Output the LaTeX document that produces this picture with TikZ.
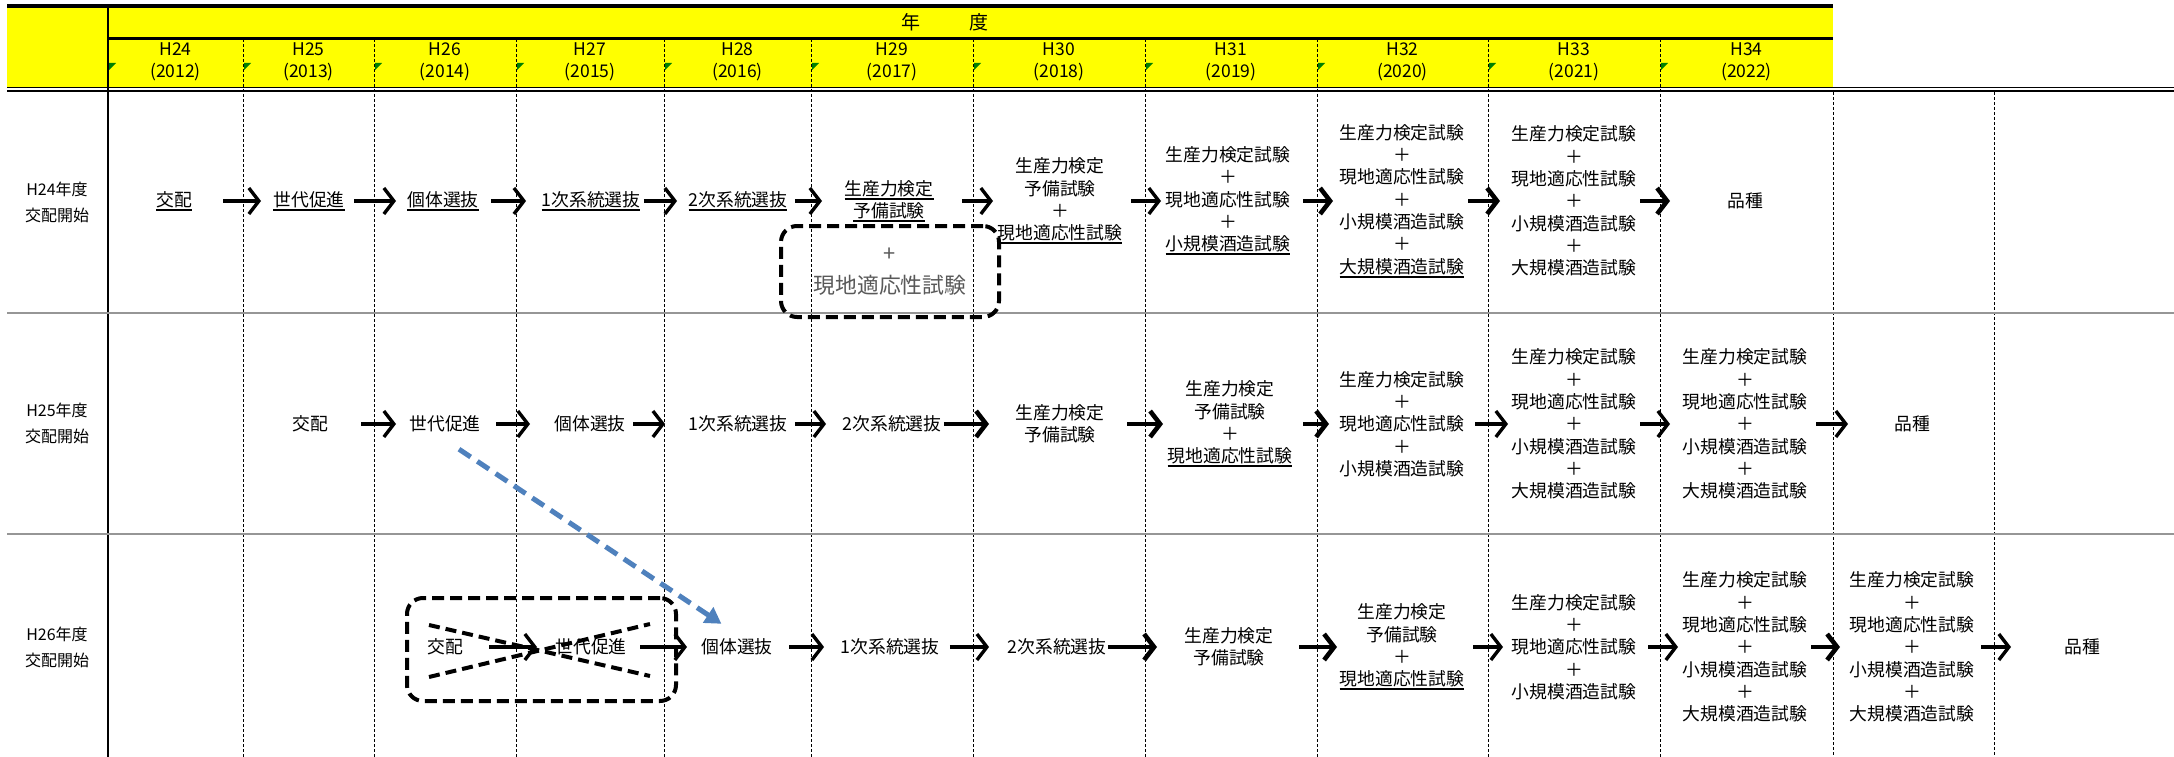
\documentclass[tikz,border=0pt]{standalone}
\usepackage{fontspec}
\setmainfont{Noto Sans CJK JP}
\usetikzlibrary{arrows.meta,calc}
\definecolor{hdryellow}{RGB}{255,255,0}
\definecolor{xlblue}{RGB}{79,129,189}
\definecolor{boxgray}{RGB}{89,89,89}
\definecolor{sepgray}{RGB}{150,150,150}
\definecolor{flaggreen}{RGB}{0,128,0}
\newcommand\myconn[5][arr]{\draw[#1,shorten <=#4pt,shorten >=#5pt] (#2.east) -- (#3.west |- #2.east);}
\newcommand\myul[1]{\setbox0\hbox{#1}\leavevmode\rlap{\rule[-4.6pt]{\wd0}{1.9pt}}\box0}
\newcommand\pl{＋}
\begin{document}
\begin{tikzpicture}[x=1pt,y=-1pt,
  txt/.style={inner sep=0pt,outer sep=0pt,align=center,font=\fontsize{17.8}{22.3}\selectfont},
  lbl/.style={inner sep=0pt,align=center,font=\fontsize{16}{26}\selectfont},
  hdr/.style={inner sep=0pt,align=center,font=\fontsize{17.5}{22}\selectfont},
  arr/.style={line width=3.4pt,-{Straight Barb[length=10pt,width=26pt]}},
  arrH/.style={arr,line width=4.6pt},
  coldiv/.style={line width=0.8pt,dash pattern=on 3pt off 2pt},
  rowsep/.style={line width=2.4pt,sepgray},
  dbox/.style={draw,line width=4pt,dash pattern=on 12pt off 6pt,rounded corners=16pt,inner sep=0pt},
  xline/.style={line width=4pt,dash pattern=on 11pt off 6pt},
  bluearr/.style={xlblue,line width=5pt,dash pattern=on 14pt off 8pt,-{Triangle[length=16pt,width=18pt]}},
  flag/.style={fill=flaggreen,draw=none}]
\useasboundingbox (0,0) rectangle (2174,757);
\fill[white] (0,0) rectangle (2174,757);
% ---------- header ----------
\fill[hdryellow] (7,6) rectangle (1833,88);
\foreach \x in {243,374,516,664,811,973,1145,1317,1488,1660}
  \draw[coldiv] (\x,39) -- (\x,757);
\foreach \x in {1833,1994}
  \draw[coldiv] (\x,92) -- (\x,757);
\draw[line width=1.2pt] (108,6) -- (108,757);
\draw[line width=3.4pt] (7,6) -- (1833,6);
\draw[line width=3pt] (108,39) -- (1833,39);
\draw[line width=1.8pt] (7,87.5) -- (2174,87.5);
\draw[line width=1.8pt] (7,91.2) -- (2174,91.2);
\foreach \x in {108,243,374,516,664,811,973,1145,1317,1488,1660}
  \fill[flag] (\x+1,63) -- (\x+8,63) -- (\x+1,70) -- cycle;
\node[font=\fontsize{19}{19}\selectfont,inner sep=0pt] (nendo) at (945,22) {年\hspace{50pt}度};
\node[hdr] (h24) at (175.5,62) {H24\\(2012)};
\node[hdr] (h25) at (308.5,62) {H25\\(2013)};
\node[hdr] (h26) at (445,62) {H26\\(2014)};
\node[hdr] (h27) at (590,62) {H27\\(2015)};
\node[hdr] (h28) at (737.5,62) {H28\\(2016)};
\node[hdr] (h29) at (892,62) {H29\\(2017)};
\node[hdr] (h30) at (1059,62) {H30\\(2018)};
\node[hdr] (h31) at (1231,62) {H31\\(2019)};
\node[hdr] (h32) at (1402.5,62) {H32\\(2020)};
\node[hdr] (h33) at (1574,62) {H33\\(2021)};
\node[hdr] (h34) at (1746.5,62) {H34\\(2022)};
% ---------- row separators ----------
\draw[rowsep] (7,313) -- (2174,313);
\draw[rowsep] (7,534) -- (2174,534);
% ---------- left labels ----------
\node[lbl] (l1) at (57,202) {H24年度\\交配開始};
\node[lbl] (l2) at (57,423) {H25年度\\交配開始};
\node[lbl] (l3) at (57,647) {H26年度\\交配開始};
% ---------- row 1 ----------
\node[txt] (n11) at (174,201) {\myul{交配}};
\node[txt] (n12) at (309,201) {\myul{世代促進}};
\node[txt] (n13) at (443,201) {\myul{個体選抜}};
\node[txt] (n14) at (591,201) {\myul{1次系統選抜}};
\node[txt] (n15) at (738,201) {\myul{2次系統選抜}};
\node[txt] (n16) at (889,201) {\myul{生産力検定}\\\myul{予備試験}};
\node[txt] (n17) at (1060,201) {生産力検定\\予備試験\\\pl\\\myul{現地適応性試験}};
\node[txt] (n18) at (1228,201) {生産力検定試験\\\pl\\現地適応性試験\\\pl\\\myul{小規模酒造試験}};
\node[txt] (n19) at (1402,201) {生産力検定試験\\\pl\\現地適応性試験\\\pl\\小規模酒造試験\\\pl\\\myul{大規模酒造試験}};
\node[txt] (n1a) at (1574,201) {生産力検定試験\\\pl\\現地適応性試験\\\pl\\小規模酒造試験\\\pl\\大規模酒造試験};
\node[txt] (n1b) at (1745,201) {品種};
\myconn{n11}{n12}{31.2}{12.4}
\myconn{n12}{n13}{9.4}{11.4}
\myconn{n13}{n14}{12.4}{15.5}
\myconn{n14}{n15}{3.5}{11.5}
\myconn{n15}{n16}{7.5}{22.5}
\myconn{n16}{n17}{28.5}{4.7}
\myconn{n17}{n18}{8.7}{4.7}
\myconn[arrH]{n18}{n19}{12.7}{6.7}
\myconn[arrH]{n19}{n1a}{3.7}{11.7}
\myconn[arrH]{n1a}{n1b}{3.7}{57.2}
\node[dbox,minimum width=218pt,minimum height=91pt,text=boxgray,align=center,
  font=\fontsize{21.8}{32}\selectfont] (box1) at (890,271.5) {+\\現地適応性試験};
% ---------- row 2 ----------
\node[txt] (n21) at (310,424) {交配};
\node[txt] (n22) at (445,424) {世代促進};
\node[txt] (n23) at (590,424) {個体選抜};
\node[txt] (n24) at (738,424) {1次系統選抜};
\node[txt] (n25) at (892,424) {2次系統選抜};
\node[txt] (n26) at (1060,424) {生産力検定\\予備試験};
\node[txt] (n27) at (1230,424) {生産力検定\\予備試験\\\pl\\\myul{現地適応性試験}};
\node[txt] (n28) at (1402,424) {生産力検定試験\\\pl\\現地適応性試験\\\pl\\小規模酒造試験};
\node[txt] (n29) at (1574,424) {生産力検定試験\\\pl\\現地適応性試験\\\pl\\小規模酒造試験\\\pl\\大規模酒造試験};
\node[txt] (n2a) at (1745,424) {生産力検定試験\\\pl\\現地適応性試験\\\pl\\小規模酒造試験\\\pl\\大規模酒造試験};
\node[txt] (n2b) at (1912,424) {品種};
\myconn{n21}{n22}{33.2}{13.4}
\myconn{n22}{n23}{15.4}{24.4}
\myconn{n23}{n24}{7.4}{23.5}
\myconn{n24}{n25}{7.5}{16.5}
\myconn[arrH]{n25}{n26}{2.5}{26.5}
\myconn[arrH]{n26}{n27}{22.5}{4.7}
\myconn[arrH]{n27}{n28}{10.7}{10.7}
\myconn{n28}{n29}{10.7}{3.7}
\myconn{n29}{n2a}{3.7}{12.7}
\myconn{n2a}{n2b}{8.7}{46.2}
% ---------- row 3 ----------
\node[dbox,minimum width=269pt,minimum height=103pt] (box3) at (541.5,649.5) {};
\draw[xline] (429,625) -- (650,676);
\draw[xline] (429,677) -- (650,624);
\node[txt] (n31) at (445,647) {交配};
\node[txt] (n32) at (591,647) {世代促進};
\node[txt] (n33) at (737,647) {個体選抜};
\node[txt] (n34) at (890,647) {1次系統選抜};
\node[txt] (n35) at (1057,647) {2次系統選抜};
\node[txt] (n36) at (1229,647) {生産力検定\\予備試験};
\node[txt] (n37) at (1402,647) {生産力検定\\予備試験\\\pl\\\myul{現地適応性試験}};
\node[txt] (n38) at (1574,647) {生産力検定試験\\\pl\\現地適応性試験\\\pl\\小規模酒造試験};
\node[txt] (n39) at (1745,647) {生産力検定試験\\\pl\\現地適応性試験\\\pl\\小規模酒造試験\\\pl\\大規模酒造試験};
\node[txt] (n3a) at (1912,647) {生産力検定試験\\\pl\\現地適応性試験\\\pl\\小規模酒造試験\\\pl\\大規模酒造試験};
\node[txt] (n3b) at (2082,647) {品種};
\myconn{n31}{n32}{26.2}{18.4}
\myconn{n32}{n33}{13.4}{14.4}
\myconn{n33}{n34}{16.4}{16.5}
\myconn{n34}{n35}{10.5}{18.5}
\myconn[arrH]{n35}{n36}{1.5}{27.5}
\myconn[arrH]{n36}{n37}{25.5}{2.7}
\myconn{n37}{n38}{8.7}{8.7}
\myconn{n38}{n39}{11.7}{4.7}
\myconn[arrH]{n39}{n3a}{3.7}{9.7}
\myconn{n3a}{n3b}{6.7}{53.2}
% ---------- blue dashed arrow ----------
\draw[bluearr] ([xshift=14pt,yshift=-17pt]n22.south) -- ([xshift=20pt,yshift=15pt]n33.north west);
\end{tikzpicture}
\end{document}
